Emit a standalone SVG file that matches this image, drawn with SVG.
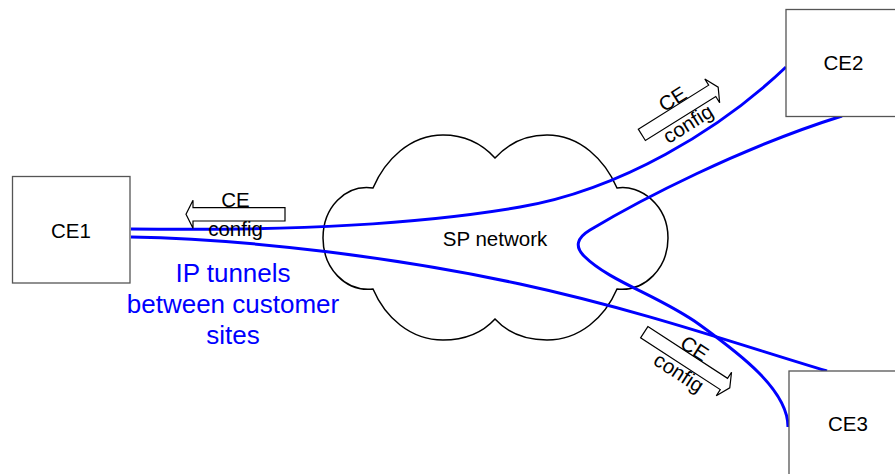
<svg xmlns="http://www.w3.org/2000/svg" width="895" height="474" viewBox="0 0 895 474">
<style>
.box{fill:#fff;stroke:#555;stroke-width:1.3}
.lbl{font-family:"Liberation Sans",Arial,sans-serif;font-size:20.5px;fill:#000;text-anchor:middle}
.blue{font-family:"Liberation Sans",Arial,sans-serif;font-size:26px;fill:#0000ff;text-anchor:middle}
.tun{fill:none;stroke:#0000ff;stroke-width:3}
.arr{fill:#fff;stroke:#000;stroke-width:1.2;stroke-linejoin:miter}
.cloud{fill:#fff;stroke:#000;stroke-width:1.5}
</style>
<rect width="895" height="474" fill="#fff"/>
<g id="sp-network">
<path class="cloud" d="M373,188 C385,160 410,135 443,135 C468,135 485,147 495,158 C505,147 522,135 547,135 C580,135 605,160 617,188 C640,184 668,205 668,238 C668,268 645,292 617,289 C605,317 580,340 547,340 C522,340 505,330 495,319 C485,330 468,340 443,340 C410,340 385,317 373,289 C345,292 323,268 323,238 C323,208 345,184 373,188 Z"/>
<text class="lbl" x="495" y="246">SP network</text>
</g>
<g id="connectors">
<path class="tun" d="M131,229 C300,231 420,224 520,207 C620,190 720,130 786,67"/>
<path class="tun" d="M131,237 C250,239 400,258 520,284 C640,310 740,345 827,371"/>
<path class="tun" d="M842,116 C740,148 640,200 590,230 Q570,242 584,256 C610,282 660,296 700,325 C740,354 788,390 788,427"/>
</g>
<g id="ce1">
<rect class="box" x="12.5" y="176.5" width="117.5" height="106.5"/>
<text class="lbl" x="71" y="238">CE1</text>
</g>
<g id="ce2">
<rect class="box" x="786" y="9.5" width="118" height="107"/>
<text class="lbl" x="843.5" y="70">CE2</text>
</g>
<g id="ce3">
<rect class="box" x="789" y="371" width="118" height="107"/>
<text class="lbl" x="848" y="431">CE3</text>
</g>
<g id="ce1-config" transform="translate(235.5,214.3)">
<path class="arr" d="M49.5,-6.7 H-42.5 V-14 L-49.5,0 L-42.5,14 V6.7 H49.5 Z"/>
<text class="lbl" x="0" y="-7">CE</text>
<text class="lbl" x="0" y="22">config</text>
</g>
<g id="ce2-config" transform="translate(680,111) rotate(-32)">
<path class="arr" d="M-45,-6.7 H38 V-14 L45,0 L38,14 V6.7 H-45 Z"/>
<text class="lbl" x="0" y="-7">CE</text>
<text class="lbl" x="0" y="22">config</text>
</g>
<g id="ce3-config" transform="translate(687,360) rotate(33)">
<path class="arr" d="M-51,-6.7 H44 V-14 L51,0 L44,14 V6.7 H-51 Z"/>
<text class="lbl" x="0" y="-7">CE</text>
<text class="lbl" x="0" y="22">config</text>
</g>
<g id="tunnel-label">
<text class="blue" x="233" y="282">IP tunnels</text>
<text class="blue" x="233" y="313">between customer</text>
<text class="blue" x="233" y="344">sites</text>
</g>
</svg>
